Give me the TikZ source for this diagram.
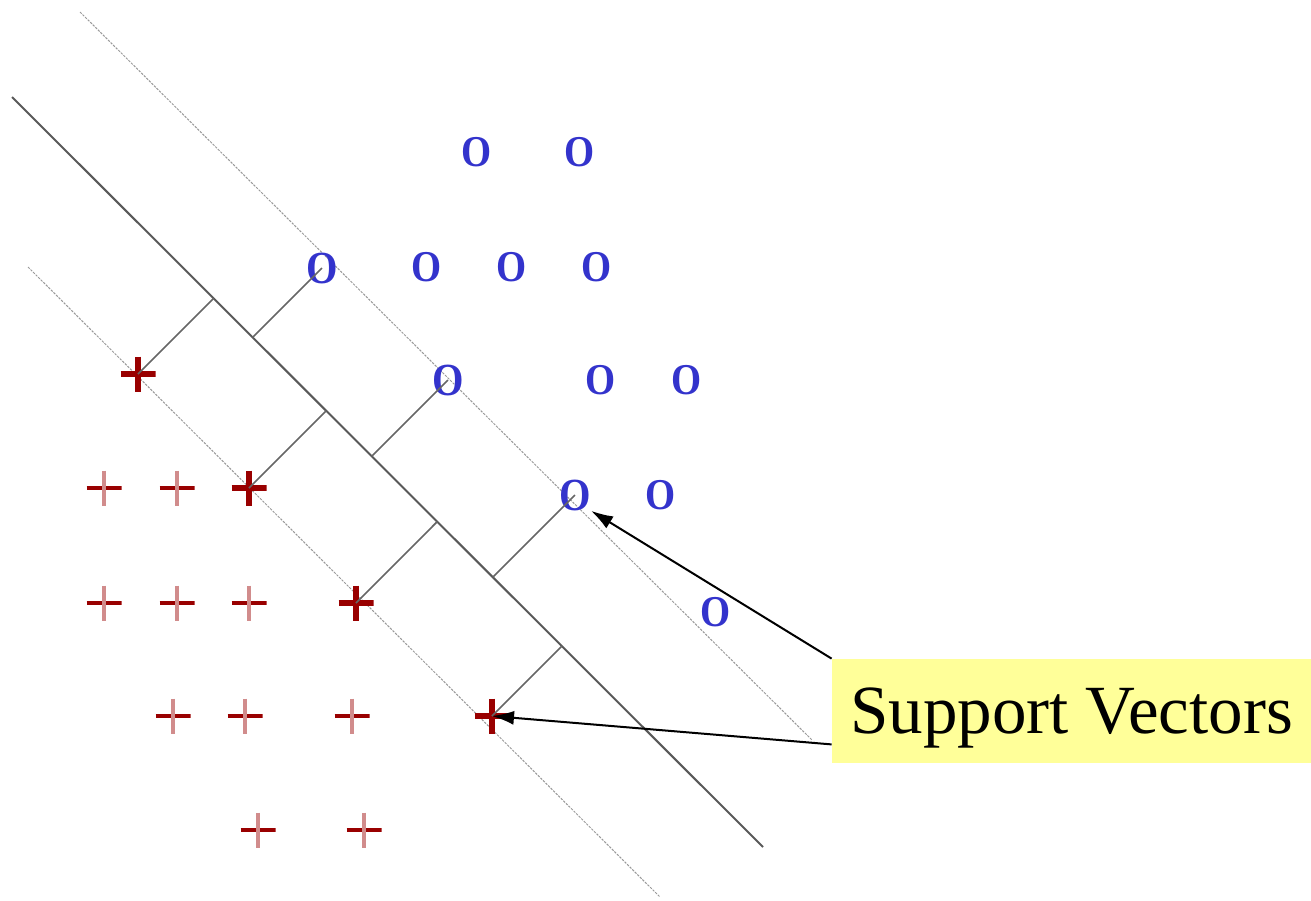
\documentclass[tikz,border=0pt]{standalone}
\usepackage{fontspec}
\setmainfont{Liberation Serif}
\newfontfamily\markfont[FakeStretch=0.88]{Liberation Serif}
\usetikzlibrary{arrows.meta,calc}
\definecolor{plusred}{RGB}{153,0,0}
\definecolor{oblue}{RGB}{51,51,204}
\definecolor{noteyellow}{RGB}{255,255,153}
\begin{document}
\begin{tikzpicture}[x=0.5pt,y=-0.5pt,
	omark/.style={inner sep=0pt, text=oblue, font=\fontsize{22}{22}\markfont\bfseries},
	svomark/.style={omark, font=\fontsize{23}{23}\markfont\bfseries},
	plusmark/.style={minimum size=17.5pt, inner sep=0pt, path picture={
		\draw[plusred, line width=1.7pt] (path picture bounding box.west) -- (path picture bounding box.east);
		\draw[plusred!45, line width=1.7pt] (path picture bounding box.north) -- (path picture bounding box.south);}},
	svplusmark/.style={minimum size=17.5pt, inner sep=0pt, path picture={
		\draw[plusred, line width=2.6pt] (path picture bounding box.west) -- (path picture bounding box.east);
		\draw[plusred, line width=2.6pt] (path picture bounding box.north) -- (path picture bounding box.south);}},
	hyperplane/.style={draw=black!65, line width=1pt},
	margin/.style={draw=black!40, line width=0.5pt, dash pattern=on 1.2pt off 0.6pt},
	gap/.style={draw=black!60, line width=0.8pt},
	pointer/.style={draw=black, line width=1pt, -{Latex[length=11pt,width=7pt]}}]
	\useasboundingbox (0,0) rectangle (1311,900);
	\coordinate (H1) at (12,97);
	\coordinate (H2) at (763,847);
	\coordinate (M1) at (80,12);
	\coordinate (M2) at (812,740);
	\coordinate (L1) at (28,267);
	\coordinate (L2) at (660,897);
	\draw[margin] (M1) -- (M2);
	\draw[margin] (L1) -- (L2);
	\draw[hyperplane] (H1) -- (H2);
	\node (O1) at (477,152)	[omark]	{O};
	\node (O2) at (580,152)	[omark]	{O};
	\node (O3) at (427,267)	[omark]	{O};
	\node (O4) at (512,267)	[omark]	{O};
	\node (O5) at (597,267)	[omark]	{O};
	\node (O6) at (601,380)	[omark]	{O};
	\node (O7) at (687,380)	[omark]	{O};
	\node (O8) at (661,495)	[omark]	{O};
	\node (O9) at (716,612)	[omark]	{O};
	\node (SO1) at (322,268)	[svomark]	{O};
	\node (SO2) at (448,380)	[svomark]	{O};
	\node (SO3) at (575,495)	[svomark]	{O};
	\node (P1) at (104,488)	[plusmark]	{};
	\node (P2) at (177,488)	[plusmark]	{};
	\node (P3) at (104,603)	[plusmark]	{};
	\node (P4) at (177,603)	[plusmark]	{};
	\node (P5) at (249,603)	[plusmark]	{};
	\node (P6) at (173,716)	[plusmark]	{};
	\node (P7) at (245,716)	[plusmark]	{};
	\node (P8) at (352,716)	[plusmark]	{};
	\node (P9) at (258,830)	[plusmark]	{};
	\node (P10) at (364,830)	[plusmark]	{};
	\node (SP1) at (138,374)	[svplusmark]	{};
	\node (SP2) at (249,488)	[svplusmark]	{};
	\node (SP3) at (356,603)	[svplusmark]	{};
	\node (SP4) at (492,716)	[svplusmark]	{};
	\draw[gap] (SP1.center) -- ($(H1)!(SP1)!(H2)$);
	\draw[gap] (SO1.center) -- ($(H1)!(SO1)!(H2)$);
	\draw[gap] (SP2.center) -- ($(H1)!(SP2)!(H2)$);
	\draw[gap] (SO2.center) -- ($(H1)!(SO2)!(H2)$);
	\draw[gap] (SP3.center) -- ($(H1)!(SP3)!(H2)$);
	\draw[gap] (SO3.center) -- ($(H1)!(SO3)!(H2)$);
	\draw[gap] (SP4.center) -- ($(H1)!(SP4)!(H2)$);
	\node (SV) at (1071.5,711)	[fill=noteyellow, minimum width=239.5pt, minimum height=52pt, inner sep=0pt, text height=22.5pt, text depth=0pt, font=\fontsize{34.5}{34.5}\selectfont]	{Support Vectors};
	\draw[pointer] (SV.north west) -- (SO3.south east);
	\draw[pointer] ([yshift=9.5pt]SV.south west) -- (SP4.center);
\end{tikzpicture}
\end{document}
